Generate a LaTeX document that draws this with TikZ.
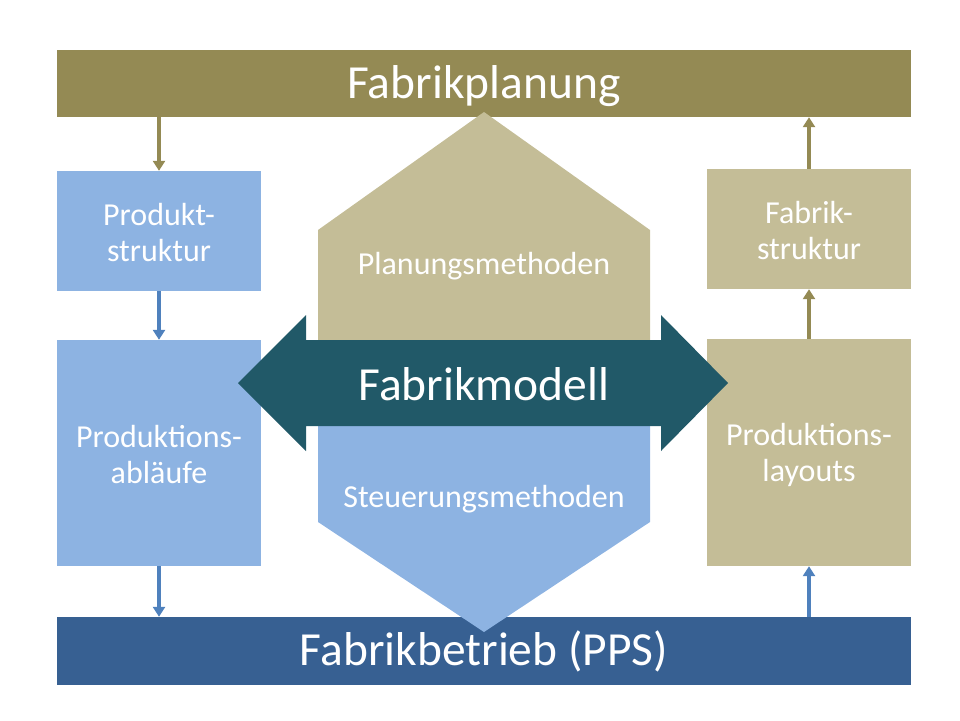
\documentclass[tikz,border=0pt]{standalone}
\usepackage{fontspec}
\setmainfont{Carlito}
\usetikzlibrary{arrows.meta}
\definecolor{oliveBar}{HTML}{948A54}
\definecolor{tanBox}{HTML}{C4BD97}
\definecolor{blueBox}{HTML}{8DB3E2}
\definecolor{blueBar}{HTML}{376092}
\definecolor{tealArrow}{HTML}{215968}
\definecolor{blueLine}{HTML}{4F81BD}
\tikzset{
  bar/.style={rectangle,inner sep=0pt,minimum width=854pt,text=white,text height=39pt,text depth=10pt,font=\fontsize{47.5}{50}\selectfont},
  box/.style={rectangle,inner sep=0pt,minimum width=204pt},
  boxtext/.style={text=white,align=center,font=\fontsize{32}{36}\selectfont},
  label/.style={text=white,font=\fontsize{32}{36}\selectfont},
  olivearrow/.style={draw=oliveBar,line width=4pt,-{Triangle[length=10pt,width=12pt]}},
  bluearrow/.style={draw=blueLine,line width=4pt,-{Triangle[length=10pt,width=12pt]}}
}
\begin{document}
\begin{tikzpicture}[x=1pt,y=-1pt]
\useasboundingbox (0,0) rectangle (960,720);
\node[bar,fill=oliveBar,minimum height=67pt] (plan) at (484,83.5) {Fabrikplanung};
\node[bar,fill=blueBar,minimum height=68pt] (pps) at (484,651) {Fabrikbetrieb (PPS)};

\node[box,fill=blueBox,minimum height=120pt] (pstruk) at (159,231) {};
\node[box,fill=blueBox,minimum height=226pt] (ablauf) at (159,453) {};
\node[box,fill=tanBox,minimum height=120pt] (fstruk) at (809,229) {};
\node[box,fill=tanBox,minimum height=227pt] (layout) at (809,452.5) {};
\node[boxtext] (pstrukText) at ([yshift=-2pt]pstruk.center) {Produkt-\\struktur};
\node[boxtext] (ablaufText) at ([yshift=-2pt]ablauf.center) {Produktions-\\abläufe};
\node[boxtext] (fstrukText) at ([yshift=-2pt]fstruk.center) {Fabrik-\\struktur};
\node[boxtext] (layoutText) at ([yshift=-2.5pt]layout.center) {Produktions-\\layouts};

% methods and model
\fill[tanBox] (318,340) -- (318,230) -- (484,112) -- (650,230) -- (650,340) -- cycle;
\fill[blueBox] (318,426) -- (318,522) -- (484,632) -- (650,522) -- (650,426) -- cycle;
\fill[tealArrow] (238,383) -- (306,315) -- (306,340) -- (661,340) -- (661,315) -- (728,383)
  -- (661,451) -- (661,426) -- (306,426) -- (306,451) -- cycle;
\node[label] (pmeth) at (484,266) {Planungsmethoden};
\node[label] (smeth) at (484,499) {Steuerungsmethoden};
\node[text=white,font=\fontsize{47.5}{50}\selectfont] (modell) at (484,384) {Fabrikmodell};

\draw[olivearrow] (plan.south -| pstruk.north) -- (pstruk.north);
\draw[bluearrow] (pstruk.south) -- (ablauf.north);
\draw[bluearrow] (ablauf.south) -- (pps.north -| ablauf.south);
\draw[bluearrow] (pps.north -| layout.south) -- (layout.south);
\draw[olivearrow] (layout.north) -- (fstruk.south);
\draw[olivearrow] (fstruk.north) -- (plan.south -| fstruk.north);
\end{tikzpicture}
\end{document}
